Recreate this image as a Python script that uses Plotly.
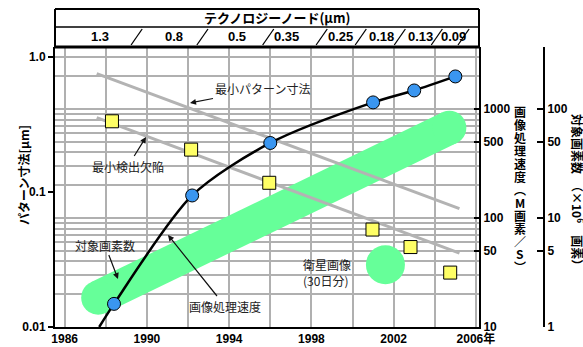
import plotly.graph_objects as go

# ---- data ----
# technology node header row
node_labels = ["1.3", "0.8", "0.5", "0.35", "0.25", "0.18", "0.13", "0.09"]
node_label_years = [1987.7, 1991.3, 1994.4, 1996.8, 1999.4, 2001.4, 2003.3, 2004.9]
node_sep_years = [1989.5, 1992.7, 1995.9, 1998.5, 2000.4, 2002.3, 2004.1, 2005.4]

# image processing speed (M pixels / s)
speed_years = [1988.4, 1992.2, 1996.0, 2001.0, 2003.0, 2005.0]
speed_values = [16.3, 161, 488, 1150, 1480, 1990]
# speed trend curve (starts at the lower edge)
curve_years = [1987.68, 1988.4, 1992.2, 1996.0, 2001.0, 2003.0, 2005.0]
curve_values = [10, 16.3, 161, 488, 1150, 1480, 1990]

# detected defect size (um)
defect_years = [1988.3, 1992.15, 1995.95, 2000.97, 2002.82, 2004.75]
defect_sizes = [0.334, 0.206, 0.117, 0.0527, 0.0391, 0.0253]

# minimum pattern size / minimum detectable defect trends (um)
trend_years = [1987.56, 2005.2]
min_pattern = [0.753, 0.0753]
min_defect = [0.356, 0.0353]

# pixel count to inspect (x10^6 pixels)
pixel_years = [1987.63, 2004.71]
pixel_counts = [1.86, 67.3]
# satellite imagery, 30 days
sat_years = [2001.6]
sat_counts = [3.73]

# x axis labels
year_ticks = [1986, 1990, 1994, 1998, 2002, 2006]
year_text = ["1986", "1990", "1994", "1998", "2002", "2006年"]

# ---- styling ----
NUM_FONT = "Liberation Sans, Arial, Noto Sans CJK JP"
JP_FONT = "Noto Sans CJK JP, Liberation Sans"
GRID = "#b0b0b0"
GREEN = "#66ff99"
XDOM = 0.8185  # plot right edge in paper units

fig = go.Figure()

# pixel-count band (drawn first, lowest layer)
fig.add_trace(go.Scatter(
    x=pixel_years, y=pixel_counts, yaxis="y", mode="lines+markers",
    line=dict(color=GREEN, width=34),
    marker=dict(color=GREEN, size=34, line=dict(width=0)),
))
fig.add_trace(go.Scatter(
    x=sat_years, y=sat_counts, yaxis="y", mode="markers",
    marker=dict(color=GREEN, size=39, line=dict(width=0)),
))

# trend lines (left axis)
fig.add_trace(go.Scatter(
    x=trend_years, y=min_pattern, yaxis="y2", mode="lines",
    line=dict(color="#b3b3b3", width=3),
))
fig.add_trace(go.Scatter(
    x=trend_years, y=min_defect, yaxis="y2", mode="lines",
    line=dict(color="#b3b3b3", width=3),
))
fig.add_trace(go.Scatter(
    x=defect_years, y=defect_sizes, yaxis="y2", mode="markers",
    marker=dict(symbol="square", size=13, color="#ffff66",
                line=dict(color="black", width=1)),
))

# speed curve and points (speed axis)
fig.add_trace(go.Scatter(
    x=curve_years, y=curve_values, yaxis="y3", mode="lines",
    line=dict(color="black", width=2.5, shape="spline", smoothing=0.8),
))
fig.add_trace(go.Scatter(
    x=speed_years, y=speed_values, yaxis="y3", mode="markers",
    marker=dict(symbol="circle", size=13, color="#3a96f0",
                line=dict(color="black", width=1)),
))

grid_vals = [m * 10 ** e for e in range(0, 3) for m in range(1, 10)] + [100, 200, 300]

fig.update_layout(
    width=583, height=347,
    margin=dict(l=55, r=10, t=47, b=20, autoexpand=False),
    paper_bgcolor="white", plot_bgcolor="white",
    showlegend=False, hovermode=False,
    xaxis=dict(
        domain=[0, XDOM], range=[1985.53, 2006.15], automargin=False,
        tickmode="array", tickvals=year_ticks, ticktext=year_text,
        showgrid=True, gridcolor=GRID, gridwidth=1.5,
        minor=dict(dtick=2, tick0=1986, showgrid=True, gridcolor=GRID, gridwidth=1.5, ticks=""),
        showline=True, linecolor="black", linewidth=2, ticks="",
        tickfont=dict(family=NUM_FONT, size=12, color="black", weight="bold"),
        zeroline=False, anchor="y2",
    ),
    # pixel-count axis (x10^6 pixels), far right
    yaxis=dict(
        type="log", range=[0, 2.569], side="right", anchor="free", position=0.944,
        automargin=False,
        tickmode="array", tickvals=[1, 5, 10, 50, 100, 370],
        ticktext=["1", "5", "10", "50", "100", ""],
        ticks="inside", ticklen=6, tickwidth=2, tickcolor="black",
        showline=True, linecolor="black", linewidth=2,
        showgrid=False,
        minor=dict(tickmode="array", tickvals=grid_vals, showgrid=True,
                   gridcolor=GRID, gridwidth=1.5, ticks=""),
        tickfont=dict(family=NUM_FONT, size=12, color="black", weight="bold"),
        zeroline=False,
    ),
    # pattern size axis (um), left
    yaxis2=dict(
        type="log", range=[-2, 0.074], side="left", overlaying="y", anchor="x",
        automargin=False,
        tickmode="array", tickvals=[0.01, 0.1, 1], ticktext=["0.01", "0.1", "1.0"],
        ticks="outside", ticklen=5, tickwidth=2, tickcolor="black",
        showline=True, linecolor="black", linewidth=2, showgrid=False,
        tickfont=dict(family=NUM_FONT, size=12, color="black", weight="bold"),
        zeroline=False,
    ),
    # processing speed axis (M pixels/s), plot right edge
    yaxis3=dict(
        type="log", range=[1, 3.569], side="right", overlaying="y", anchor="x",
        automargin=False,
        tickmode="array", tickvals=[10, 50, 100, 500, 1000],
        ticktext=["10", "50", "100", "500", "1000"],
        ticks="inside", ticklen=5, tickwidth=2, tickcolor="black",
        showline=True, linecolor="black", linewidth=2, showgrid=False,
        tickfont=dict(family=NUM_FONT, size=12, color="black", weight="bold"),
        zeroline=False,
    ),
)

# ---- header table ----
def py(pix):
    """paper y from a pixel row (plot spans rows 47..327)"""
    return (327 - pix) / 280


def px(pix):
    """paper x from a pixel column (paper spans columns 55..573)"""
    return (pix - 55) / 518


shapes = [
    dict(type="line", xref="paper", yref="paper", x0=0, x1=XDOM, y0=py(9), y1=py(9),
         line=dict(color="black", width=2)),
    dict(type="line", xref="paper", yref="paper", x0=0, x1=XDOM, y0=py(27), y1=py(27),
         line=dict(color="black", width=1.5)),
    dict(type="line", xref="paper", yref="paper", x0=0, x1=XDOM, y0=py(47), y1=py(47),
         line=dict(color="black", width=3)),
    dict(type="line", xref="paper", yref="paper", x0=0, x1=0, y0=py(9), y1=py(47),
         line=dict(color="black", width=2)),
    dict(type="line", xref="paper", yref="paper", x0=XDOM, x1=XDOM, y0=py(9), y1=py(47),
         line=dict(color="black", width=2)),
]
for yr in node_sep_years:
    shapes.append(dict(type="line", xref="x", yref="paper",
                       x0=yr - 0.27, x1=yr + 0.27, y0=py(45), y1=py(29),
                       line=dict(color="black", width=1.3)))
fig.update_layout(shapes=shapes)


def label(text, x, y, size=12, family=JP_FONT, color="black", angle=0, xanchor="center"):
    return dict(xref="paper", yref="paper", x=x, y=y, text=text, showarrow=False,
                xanchor=xanchor, yanchor="middle", textangle=angle,
                font=dict(family=family, size=size, color=color))


ann = []
ann.append(label("<b>テクノロジーノード(μm)</b>", px(277), py(18), size=13))
for lab, yr in zip(node_labels, node_label_years):
    ann.append(dict(xref="x", yref="paper", x=yr, y=py(37), text="<b>%s</b>" % lab,
                    showarrow=False, xanchor="center", yanchor="middle",
                    font=dict(family="Liberation Sans Narrow, " + NUM_FONT, size=13, color="black")))

# axis titles
ann.append(label("<b>パターン寸法[μm]</b>", px(23), py(175), angle=-90))
speed_title = ["画", "像", "処", "理", "速", "度", "︵", "M", "画", "素", "／", "S", "︶"]
for i, ch in enumerate(speed_title):
    ann.append(label("<b>%s</b>" % ch, px(520), py(112 + i * 12.9)))
ann.append(label("<b>対象画素数　（×10<sup>6</sup>　画素）</b>", px(578), py(192), angle=90))


# callouts
def callout(text, head, center):
    return dict(xref="paper", yref="paper",
                x=px(head[0]), y=py(head[1]),
                axref="pixel", ayref="pixel",
                ax=center[0] - head[0], ay=center[1] - head[1],
                text=text, showarrow=True, arrowhead=2, arrowsize=1,
                arrowwidth=1.2, arrowcolor="#111",
                font=dict(family=JP_FONT, size=12, color="#222"))


ann.append(callout("最小パターン寸法", (190, 103), (262, 89)))
ann.append(callout("最小検出欠陥", (146, 137), (128, 166)))
ann.append(callout("対象画素数", (118, 279), (105, 245)))
ann.append(callout("画像処理速度", (168, 235), (225, 306)))
ann.append(dict(xref="paper", yref="paper", x=px(301), y=py(272),
                xanchor="left", yanchor="middle", align="left", showarrow=False,
                text="衛星画像<br>(30日分)",
                font=dict(family=JP_FONT, size=12, color="#222")))
fig.update_layout(annotations=ann)

fig.write_html("out.html")
